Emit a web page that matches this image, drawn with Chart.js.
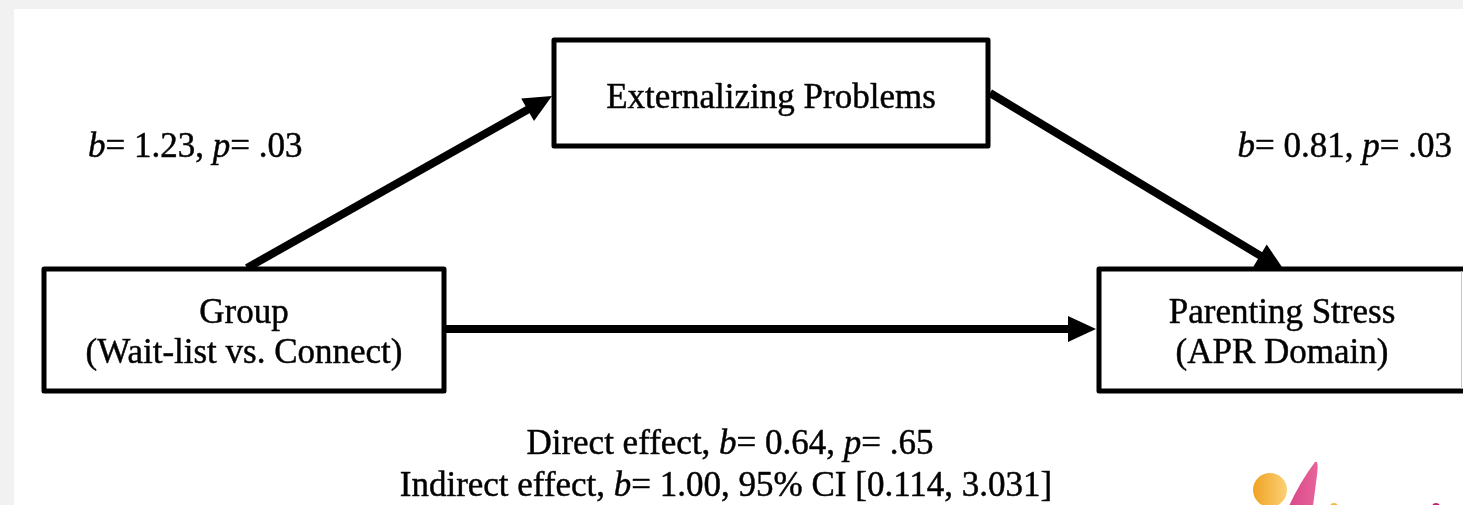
<!DOCTYPE html>
<html>
<head>
<meta charset="utf-8">
<title>Mediation model</title>
<script src="https://cdn.jsdelivr.net/npm/chart.js@4.4.1/dist/chart.umd.min.js"></script>
<style>
  html, body { margin: 0; padding: 0; background: #f1f1f1; overflow: hidden; }
  #wrap { width: 1463px; height: 505px; }
</style>
</head>
<body>
<div id="wrap"><canvas id="diagram" width="1463" height="505"></canvas></div>
<script>
// model values
const nodeNames = ['Externalizing Problems', 'Group', 'Parenting Stress'];
const nodeSubtitles = ['', '(Wait-list vs. Connect)', '(APR Domain)'];
const pathLabels = ['a', 'b', 'c\''];
const pathB = [1.23, 0.81, 0.64];
const pathP = ['.03', '.03', '.65'];
const indirectB = 1.00;
const indirectCI = [0.114, 3.031];

// diagram layout, in canvas units (x 0..1463, y 0..505 from the top)
const boxes = [
    { left: 554, right: 988, top: 40, bottom: 146, cx: 771 },
    { left: 44, right: 444, top: 269, bottom: 391, cx: 244 },
    { left: 1099, right: 1472, top: 269, bottom: 391, cx: 1282 }
];
const arrows = [
    { from: [247, 268], to: [552, 96] },
    { from: [990, 93], to: [1284, 270] },
    { from: [446, 329], to: [1096, 329] }
];

const FONT = '"Liberation Serif", "Times New Roman", serif';
const SIZE = 35;

function fmt2(v) { return v.toFixed(2); }

function pathRuns(i) {
    return [['b', true], ['= ' + fmt2(pathB[i]) + ', ', false], ['p', true], ['= ' + pathP[i], false]];
}

function drawRuns(ctx, runs, x, y, align) {
    let total = 0;
    runs.forEach(function(r) {
        ctx.font = (r[1] ? 'italic ' : '') + SIZE + 'px ' + FONT;
        total += ctx.measureText(r[0]).width;
    });
    let cx = x;
    if (align === 'center') cx = x - total / 2;
    if (align === 'right') cx = x - total;
    ctx.textAlign = 'left';
    ctx.textBaseline = 'alphabetic';
    ctx.lineWidth = 0.5;
    ctx.strokeStyle = '#111';
    runs.forEach(function(r) {
        ctx.font = (r[1] ? 'italic ' : '') + SIZE + 'px ' + FONT;
        ctx.fillText(r[0], cx, y);
        ctx.strokeText(r[0], cx, y);
        cx += ctx.measureText(r[0]).width;
    });
}

const diagramPlugin = {
    id: 'diagram',
    beforeDraw(chart) {
        const ctx = chart.ctx, xs = chart.scales.x, ys = chart.scales.y;
        ctx.save();
        ctx.fillStyle = '#f1f1f1';
        ctx.fillRect(0, 0, chart.width, chart.height);
        ctx.fillStyle = '#ffffff';
        ctx.fillRect(xs.getPixelForValue(14), ys.getPixelForValue(9), chart.width, chart.height);
        ctx.restore();
    },
    afterDatasetsDraw(chart) {
        const ctx = chart.ctx, xs = chart.scales.x, ys = chart.scales.y;
        const px = v => xs.getPixelForValue(v), py = v => ys.getPixelForValue(v);
        ctx.save();

        // arrow heads, built from each arrow dataset's end points
        chart.data.datasets.forEach(function(ds) {
            const a = ds.data[0];
            const x1 = px(a.x), y1 = py(a.y), x2 = px(ds.tip.x), y2 = py(ds.tip.y);
            const ang = Math.atan2(y2 - y1, x2 - x1);
            const len = 28, half = 13;
            const bx = x2 - len * Math.cos(ang), by = y2 - len * Math.sin(ang);
            ctx.beginPath();
            ctx.moveTo(x2, y2);
            ctx.lineTo(bx - half * Math.sin(ang), by + half * Math.cos(ang));
            ctx.lineTo(bx + half * Math.sin(ang), by - half * Math.cos(ang));
            ctx.closePath();
            ctx.fillStyle = '#000';
            ctx.fill();
        });

        // boxes
        ctx.lineWidth = 5;
        ctx.lineJoin = 'round';
        ctx.strokeStyle = '#000';
        boxes.forEach(function(bx) {
            const l = px(bx.left), t = py(bx.top);
            const w = px(bx.right) - l, h = py(bx.bottom) - t;
            ctx.fillStyle = '#fff';
            ctx.fillRect(l, t, w, h);
            ctx.strokeRect(l, t, w, h);
        });
        // faint page edge crossing the cut-off box
        ctx.strokeStyle = '#c4c4c4';
        ctx.lineWidth = 1;
        ctx.beginPath();
        ctx.moveTo(px(1461.5), py(271));
        ctx.lineTo(px(1461.5), py(389));
        ctx.stroke();

        // node labels
        ctx.fillStyle = '#000';
        boxes.forEach(function(bx, i) {
            const mid = px(bx.cx);
            if (nodeSubtitles[i]) {
                drawRuns(ctx, [[nodeNames[i], false]], mid, py(323), 'center');
                drawRuns(ctx, [[nodeSubtitles[i], false]], mid, py(363), 'center');
            } else {
                drawRuns(ctx, [[nodeNames[i], false]], mid, py(108), 'center');
            }
        });

        // path coefficients
        drawRuns(ctx, pathRuns(0), px(88), py(157), 'left');
        drawRuns(ctx, pathRuns(1), px(1452), py(157), 'right');
        drawRuns(ctx, [['Direct effect, ', false], ['b', true], ['= ' + fmt2(pathB[2]) + ', ', false], ['p', true], ['= ' + pathP[2], false]], px(730), py(454), 'center');
        drawRuns(ctx, [['Indirect effect, ', false], ['b', true],
            ['= ' + fmt2(indirectB) + ', 95% CI [' + indirectCI[0].toFixed(3) + ', ' + indirectCI[1].toFixed(3) + ']', false]],
            px(726), py(496), 'center');

        // logo fragment in the corner
        const g = ctx.createLinearGradient(px(1253), 0, px(1288), 0);
        g.addColorStop(0, '#f0a224');
        g.addColorStop(1, '#fbd277');
        ctx.fillStyle = g;
        ctx.beginPath();
        ctx.arc(px(1270), py(490), 17, 0, Math.PI * 2);
        ctx.fill();
        const g2 = ctx.createLinearGradient(px(1288), 0, px(1318), 0);
        g2.addColorStop(0, '#d9478a');
        g2.addColorStop(1, '#e8649a');
        ctx.fillStyle = g2;
        ctx.beginPath();
        ctx.moveTo(px(1289), py(506));
        ctx.quadraticCurveTo(px(1300), py(482), px(1315), py(462));
        ctx.quadraticCurveTo(px(1319), py(460), px(1317), py(475));
        ctx.lineTo(px(1313), py(506));
        ctx.closePath();
        ctx.fill();
        ctx.fillStyle = '#f5b640';
        ctx.beginPath();
        ctx.arc(px(1334), py(507), 4, 0, Math.PI * 2);
        ctx.fill();
        ctx.fillStyle = '#c2216e';
        ctx.beginPath();
        ctx.arc(px(1436), py(507), 4, 0, Math.PI * 2);
        ctx.fill();
        ctx.restore();
    }
};

// shafts stop a little before each tip so the head sits on the end
const arrowSets = arrows.map(function(a, i) {
    const dx = a.to[0] - a.from[0], dy = a.to[1] - a.from[1];
    const d = Math.sqrt(dx * dx + dy * dy);
    const back = 20;
    return {
        label: pathLabels[i],
        data: [{ x: a.from[0], y: a.from[1] }, { x: a.to[0] - dx / d * back, y: a.to[1] - dy / d * back }],
        tip: { x: a.to[0], y: a.to[1] },
        showLine: true,
        borderColor: '#000',
        borderWidth: 8,
        pointRadius: 0,
        borderCapStyle: 'butt'
    };
});

new Chart(document.getElementById('diagram').getContext('2d'), {
    type: 'scatter',
    data: { datasets: arrowSets },
    options: {
        responsive: false,
        animation: false,
        events: [],
        layout: { padding: 0 },
        plugins: { legend: { display: false }, tooltip: { enabled: false } },
        scales: {
            x: { type: 'linear', min: 0, max: 1463, display: false },
            y: { type: 'linear', min: 0, max: 505, reverse: true, display: false }
        }
    },
    plugins: [diagramPlugin]
});
</script>
</body>
</html>
